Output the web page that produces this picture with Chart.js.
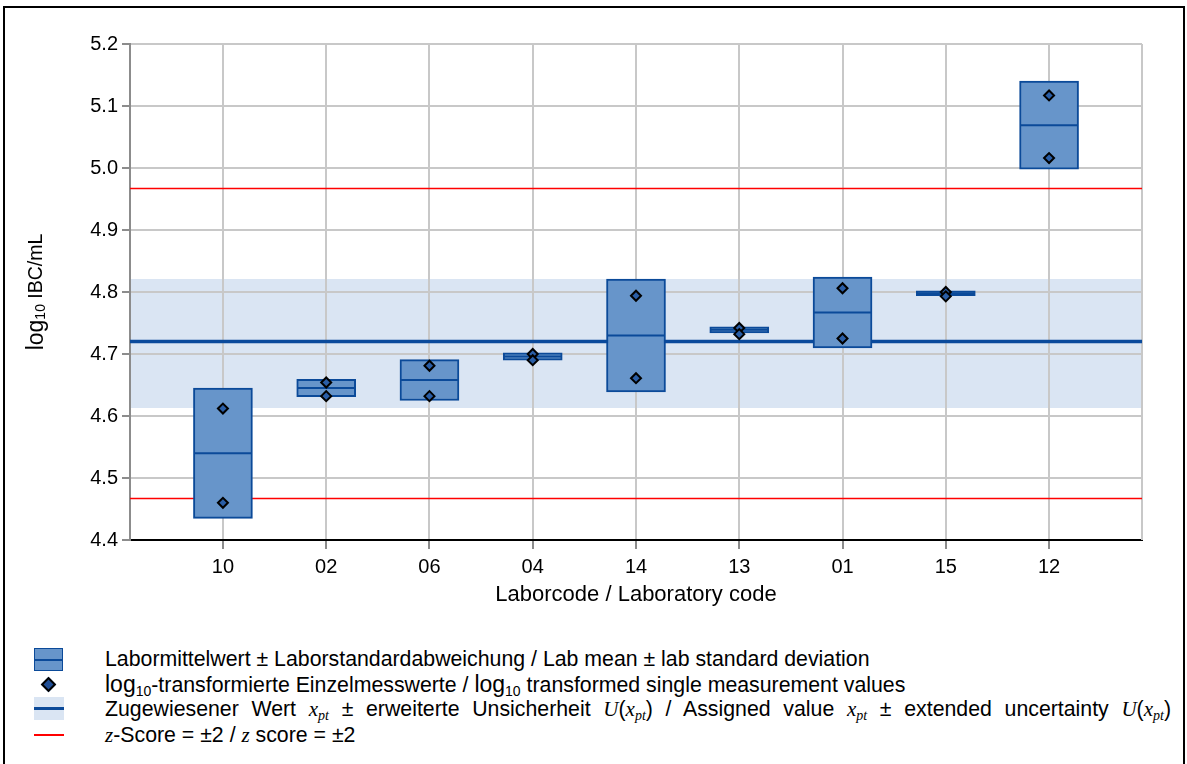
<!DOCTYPE html>
<html>
<head>
<meta charset="utf-8">
<script src="https://cdn.jsdelivr.net/npm/chart.js@4/dist/chart.umd.min.js"></script>
<style>
  html, body { margin: 0; padding: 0; background: #fff; }
  body { width: 1187px; height: 764px; position: relative; overflow: hidden;
         font-family: 'Liberation Sans', Arial, sans-serif; color: #000; }
  #frame { position: absolute; left: 3px; top: 6px; width: 1178px; height: 800px;
           border: 2px solid #000; }
  #chart { position: absolute; left: 0; top: 0; }
  .row { position: absolute; left: 105px; font-size: 21.3px; line-height: 24px; white-space: nowrap; }
  .row.just { width: 1066px; white-space: normal; text-align: justify; text-align-last: justify; }
  .m { font-family: 'Liberation Serif', 'DejaVu Serif', serif; font-style: italic; font-size: 21px; }
  .m sub { font-size: 14px; vertical-align: -4px; line-height: 0; }
  .lg { font-size: 23px; }
  .sub10 { font-size: 14px; position: relative; top: 4px; }
  .ico { position: absolute; }
</style>
</head>
<body>
<div id="frame"></div>
<canvas id="chart" width="1187" height="620"></canvas>

<!-- legend -->
<div class="ico" style="left:34px;top:648px;width:27px;height:21px;background:#6795CA;border:1.5px solid #0B4A99;">
  <div style="position:absolute;left:0;right:0;top:9.5px;height:2px;background:#0B4A99;"></div>
</div>
<div class="row" style="top:647px;">Labormittelwert ± Laborstandardabweichung / Lab mean ± lab standard deviation</div>

<div class="ico" style="left:43px;top:679px;width:7px;height:7px;background:#1F4E96;border:2px solid #000;transform:rotate(45deg);"></div>
<div class="row" style="top:672px;"><span class="lg">log</span><span class="sub10">10</span>-transformierte Einzelmesswerte / <span class="lg">log</span><span class="sub10">10</span> transformed single measurement values</div>

<div class="ico" style="left:34px;top:697px;width:30px;height:23px;background:#DAE5F3;">
  <div style="position:absolute;left:0;right:0;top:10px;height:3px;background:#0B4A99;"></div>
</div>
<div class="row just" style="top:697px;">Zugewiesener Wert <span class="m">x<sub>pt</sub></span> ± erweiterte Unsicherheit <span class="m">U</span>(<span class="m">x<sub>pt</sub></span>) / Assigned value <span class="m">x<sub>pt</sub></span> ± extended uncertainty <span class="m">U</span>(<span class="m">x<sub>pt</sub></span>)</div>

<div class="ico" style="left:34px;top:734px;width:30px;height:2px;background:#FF0000;"></div>
<div class="row" style="top:723px;"><span class="m">z</span>-Score = ±2 / <span class="m">z</span> score = ±2</div>

<script>
// Laboratory codes in plotting order
const labs = ['10', '02', '06', '04', '14', '13', '01', '15', '12'];
// Lab mean and lab standard deviation (log10 IBC/mL)
const labMean = [4.540, 4.645, 4.658, 4.696, 4.730, 4.739, 4.767, 4.798, 5.069];
const labSd   = [0.105, 0.014, 0.033, 0.006, 0.091, 0.005, 0.057, 0.004, 0.071];
// log10-transformed single measurement values (two replicates per lab)
const rep1 = [4.612, 4.654, 4.681, 4.700, 4.794, 4.742, 4.806, 4.800, 5.117];
const rep2 = [4.460, 4.632, 4.632, 4.690, 4.661, 4.732, 4.725, 4.793, 5.016];
// Assigned value and its expanded uncertainty band
const assignedValue = 4.720;
const uncertaintyBand = [4.613, 4.821];
// z score = -2 / +2 limits
const zLimits = [4.467, 4.967];
// Value axis ticks
const yTicks = [4.4, 4.5, 4.6, 4.7, 4.8, 4.9, 5.0, 5.1, 5.2];

const xTitle = 'Laborcode / Laboratory code';
const X_MIN = -0.9, X_MAX = 8.9;
const FONT = "'Liberation Sans', Arial, sans-serif";
const DARK_BLUE = '#0B4A99';

const span = v => [{ x: X_MIN, y: v }, { x: X_MAX, y: v }];
const boxData = labs.map((_, i) => ({ x: i, y: [labMean[i] - labSd[i], labMean[i] + labSd[i]] }));
const meanData = labs.map((_, i) => ({ x: i, y: labMean[i] }));
const pointData = labs.flatMap((_, i) => [{ x: i, y: rep1[i] }, { x: i, y: rep2[i] }]);

// Axis titles (y title carries a subscript) and the right frame edge of the plot
const decorations = {
  id: 'decorations',
  beforeDatasetsDraw(chart) {
    const { ctx, chartArea: a } = chart;
    ctx.save();
    ctx.strokeStyle = '#C8C8C8';
    ctx.lineWidth = 2;
    ctx.beginPath();
    ctx.moveTo(a.right, a.top);
    ctx.lineTo(a.right, a.bottom);
    ctx.stroke();
    ctx.restore();
  },
  afterDraw(chart) {
    const { ctx, chartArea: a } = chart;
    ctx.save();
    ctx.fillStyle = '#000';
    ctx.textBaseline = 'middle';
    ctx.textAlign = 'center';
    ctx.font = '22px ' + FONT;
    ctx.fillText(xTitle, (a.left + a.right) / 2, a.bottom + 55);

    const parts = [['log', '23px ' + FONT, 0], ['10', '14px ' + FONT, 4], [' IBC/mL', '19.5px ' + FONT, 0]];
    let total = 0;
    parts.forEach(p => { ctx.font = p[1]; total += ctx.measureText(p[0]).width; });
    ctx.translate(37, (a.top + a.bottom) / 2);
    ctx.rotate(-Math.PI / 2);
    ctx.textAlign = 'left';
    let x = -total / 2;
    parts.forEach(p => { ctx.font = p[1]; ctx.fillText(p[0], x, p[2]); x += ctx.measureText(p[0]).width; });
    ctx.restore();
  }
};

const lineSet = (data, color, width, order) => ({
  type: 'line', data, borderColor: color, borderWidth: width, pointRadius: 0, fill: false, order
});

new Chart(document.getElementById('chart'), {
  type: 'bar',
  data: {
    datasets: [
      { type: 'scatter', data: pointData, pointStyle: 'rectRot', pointRadius: 5,
        pointBackgroundColor: '#2A5EA6', pointBorderColor: '#000', pointBorderWidth: 2, order: 0 },
      { type: 'scatter', data: meanData, pointStyle: 'line', pointRadius: 28.5,
        pointBorderColor: DARK_BLUE, pointBorderWidth: 2, order: 1 },
      { type: 'bar', data: boxData, backgroundColor: '#6795CA', borderColor: DARK_BLUE,
        borderWidth: 2, borderSkipped: false, barThickness: 59, order: 2 },
      lineSet(span(assignedValue), '#0A4A9C', 3.5, 3),
      lineSet(span(zLimits[1]), '#FF0000', 1.5, 4),
      lineSet(span(zLimits[0]), '#FF0000', 1.5, 4),
      { type: 'line', data: span(uncertaintyBand[1]), borderWidth: 0, pointRadius: 0,
        fill: '+1', backgroundColor: '#DAE5F3', order: 5 },
      { type: 'line', data: span(uncertaintyBand[0]), borderWidth: 0, pointRadius: 0,
        fill: false, order: 6 }
    ]
  },
  options: {
    responsive: false,
    animation: false,
    devicePixelRatio: 1,
    events: [],
    layout: { padding: { left: 0, top: 44, right: 45, bottom: 0 } },
    plugins: {
      legend: { display: false },
      tooltip: { enabled: false },
      filler: { drawTime: 'beforeDraw' }
    },
    scales: {
      x: {
        type: 'linear',
        offset: false,
        min: X_MIN,
        max: X_MAX,
        afterBuildTicks: s => { s.ticks = labs.map((_, i) => ({ value: i })); },
        afterFit: s => { s.height = 80; },
        ticks: {
          callback: v => labs[v],
          font: { family: FONT, size: 20 },
          color: '#000',
          padding: 6,
          autoSkip: false,
          maxRotation: 0
        },
        grid: { offset: false, color: '#C8C8C8', lineWidth: 2, tickLength: 9, tickColor: '#8C8C8C', tickWidth: 2 },
        border: { color: '#000', width: 2 }
      },
      y: {
        type: 'linear',
        min: yTicks[0],
        max: yTicks[yTicks.length - 1],
        afterBuildTicks: s => { s.ticks = yTicks.map(v => ({ value: v })); },
        afterFit: s => { s.width = 130; },
        ticks: {
          callback: v => v.toFixed(1),
          font: { family: FONT, size: 20 },
          color: '#000',
          padding: 4
        },
        grid: { color: '#C8C8C8', lineWidth: 2, tickLength: 8, tickColor: '#8C8C8C', tickWidth: 2 },
        border: { color: '#8C8C8C', width: 2 }
      }
    }
  },
  plugins: [decorations]
});
</script>
</body>
</html>
